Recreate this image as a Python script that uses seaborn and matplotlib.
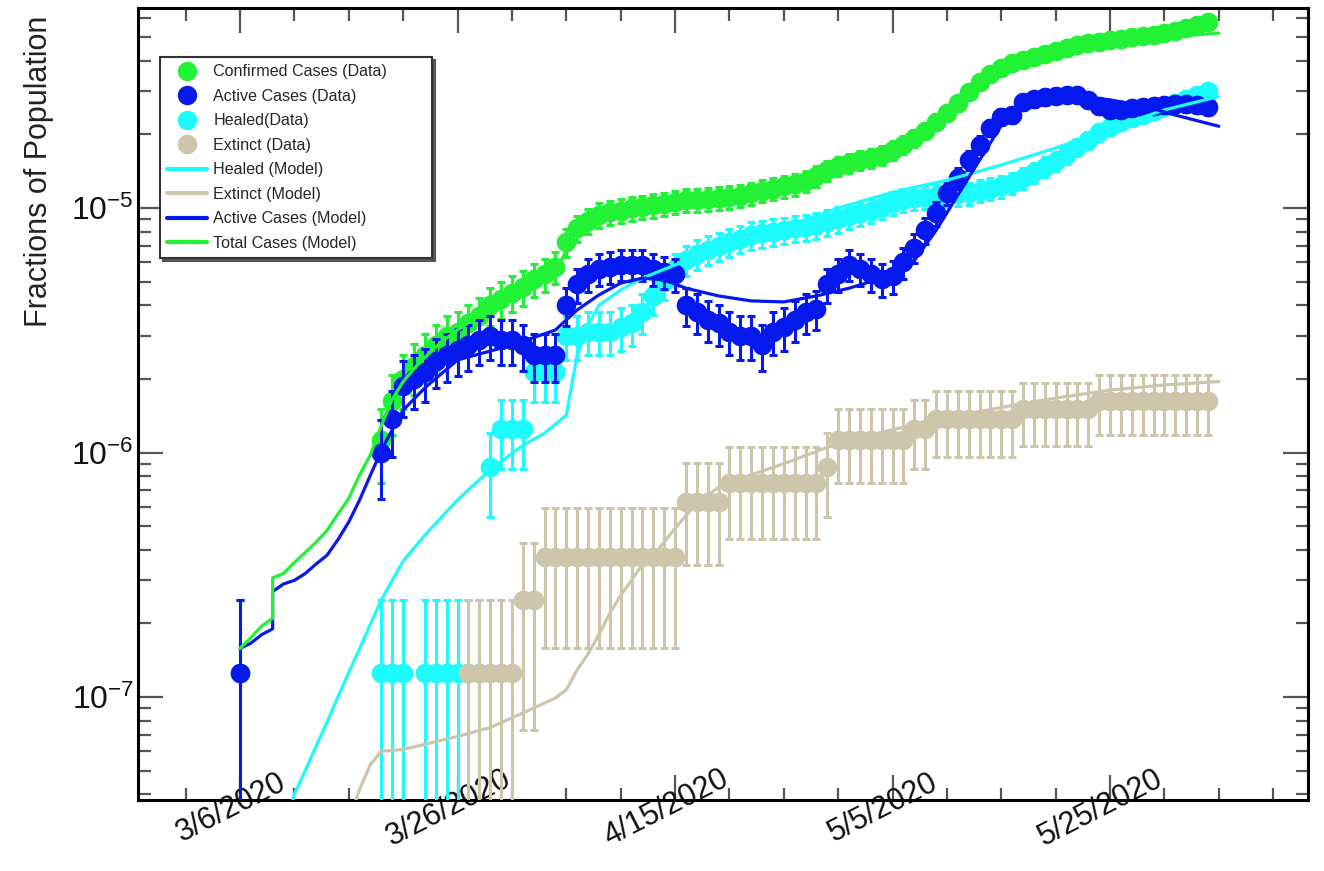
import numpy as np
import pandas as pd
import matplotlib
matplotlib.use("Agg")
import matplotlib.pyplot as plt
import seaborn as sns
from matplotlib.lines import Line2D
from matplotlib.ticker import FixedLocator, LogLocator, MultipleLocator, NullFormatter
from matplotlib.transforms import ScaledTranslation

# ---------------- data ----------------
POPULATION = 8.0e6  # fractions = counts / population

data_days = [0] + list(range(13, 90))  # days since 3/6/2020

confirmed = [1,
             9, 13, 16, 18, 20, 22, 24, 25, 27, 29, 32, 34, 36, 38, 41, 43, 46, 58, 66, 71,
             75, 77, 78, 80, 81, 82, 83, 85, 86, 86, 87, 88, 89, 90, 92, 94, 96, 98, 100, 103,
             108, 114, 119, 122, 126, 128, 132, 138, 145, 154, 166, 180, 196, 215, 238, 262, 282, 299,
             313, 322, 332, 342, 351, 362, 371, 378, 382, 390, 393, 401, 404, 408, 416, 423, 435, 448, 461]

active = [1,
          8, 11, 15, 16, 17, 19, 20, 21, 22, 23, 24, 23, 23, 22, 20, 20, 20, 32, 39, 43,
          45, 46, 47, 47, 47, 45, 44, 43, 32, 30, 28, 27, 25, 24, 24, 22, 25, 26, 28, 30,
          31, 39, 43, 47, 45, 43, 41, 42, 48, 55, 65, 76, 92, 106, 126, 145, 170, 189,
          192, 217, 223, 227, 230, 232, 232, 222, 209, 202, 202, 205, 207, 209, 211, 213, 213, 211, 207]

healed = [0,
          1, 1, 1, 0, 1, 1, 1, 1, 1, 1, 7, 10, 10, 10, 17, 17, 17, 24, 24, 25,
          25, 25, 26, 27, 30, 35, 40, 45, 49, 52, 54, 56, 58, 60, 62, 63, 64, 65, 66, 67,
          68, 70, 72, 74, 76, 78, 81, 84, 86, 88, 89, 90, 90, 91, 92, 94, 96, 98,
          101, 106, 112, 118, 125, 133, 142, 152, 163, 172, 180, 187, 193, 200, 207, 215, 224, 232, 240]

extinct = [0,
           0, 0, 0, 0, 0, 0, 0, 0, 1, 1, 1, 1, 1, 2, 2, 3, 3, 3, 3, 3,
           3, 3, 3, 3, 3, 3, 3, 3, 5, 5, 5, 5, 6, 6, 6, 6, 6, 6, 6, 6,
           6, 7, 9, 9, 9, 9, 9, 9, 9, 10, 10, 11, 11, 11, 11, 11, 11, 11,
           11, 12, 12, 12, 12, 12, 12, 12, 13, 13, 13, 13, 13, 13, 13, 13, 13, 13, 13]

# model curves (fraction of population, in units of 1e-6)
heal_model_days = [4, 5, 6, 7, 8, 9, 10, 11, 12, 13, 14, 15, 17, 20, 23, 26, 28, 30, 31, 32,
                   33, 35, 37, 40, 45, 50, 55, 60, 65, 70, 75, 80, 85, 90]
heal_model = [0.026, 0.040, 0.050, 0.063, 0.079, 0.10, 0.126, 0.158, 0.199, 0.25, 0.30, 0.36,
              0.46, 0.64, 0.85, 1.07, 1.2, 1.42, 2.5, 3.32, 4.0, 4.62, 5.17, 5.85, 7.1, 8.3,
              10.0, 11.6, 13.0, 15.0, 17.6, 21.2, 25.2, 28.6]

ext_model_days = [10, 11, 12, 13, 15, 17, 20, 23, 26, 29, 30, 31, 32, 33, 34, 35, 36, 37, 38,
                  39, 40, 42, 44, 47, 50, 55, 60, 65, 70, 75, 80, 85, 90]
ext_model = [0.031, 0.042, 0.053, 0.060, 0.061, 0.064, 0.069, 0.075, 0.086, 0.099, 0.107,
             0.129, 0.15, 0.18, 0.22, 0.26, 0.30, 0.35, 0.38, 0.43, 0.49, 0.62, 0.72, 0.81,
             0.90, 1.09, 1.24, 1.38, 1.53, 1.67, 1.80, 1.89, 1.95]

act_model_days = [0, 1, 2, 3, 3, 4, 5, 6, 7, 8, 9, 10, 11, 12, 13, 14, 15, 17, 20, 25, 29, 31,
                  33, 35, 37, 39, 41, 44, 47, 50, 53, 56, 58, 60, 62, 64, 66, 68, 70, 72, 74,
                  76, 78, 80, 83, 86, 90]
act_model = [0.158, 0.166, 0.18, 0.19, 0.27, 0.29, 0.30, 0.32, 0.35, 0.38, 0.44, 0.52, 0.64,
             0.81, 1.02, 1.24, 1.49, 1.84, 2.39, 2.75, 3.17, 3.83, 4.41, 4.93, 5.17, 5.08,
             4.7, 4.37, 4.17, 4.13, 4.37, 4.7, 5.0, 5.27, 6.1, 8.1, 11.3, 15.7, 21.8, 26.4,
             28.4, 29.0, 28.4, 27.7, 26.2, 24.0, 21.6]

tot_model_days = [0, 1, 2, 3, 3, 4, 5, 6, 7, 8, 9, 10, 11, 12, 13, 14, 15, 16, 17, 18, 19, 20,
                  24, 29, 30, 31, 35, 40, 50, 55, 60, 62, 66, 69, 72, 76, 80, 85, 90]
tot_model = [0.158, 0.175, 0.195, 0.21, 0.307, 0.32, 0.355, 0.39, 0.43, 0.48, 0.56, 0.65,
             0.81, 0.98, 1.29, 1.65, 1.95, 2.2, 2.45, 2.7, 2.94, 3.17, 4.21, 5.5, 6.7, 8.3,
             9.6, 10.5, 12.1, 14.6, 16.9, 19.0, 26.4, 34.0, 39.5, 43.5, 47.0, 49.8, 52.0]

xtick_days = [0, 20, 40, 60, 80]
xtick_labels = ["3/6/2020", "3/26/2020", "4/15/2020", "5/5/2020", "5/25/2020"]
ytick_values = [1e-7, 1e-6, 1e-5]
ytick_labels = ["$10^{-7}$", "$10^{-6}$", "$10^{-5}$"]

data_labels = ["Confirmed Cases (Data)", "Active Cases (Data)", "Healed(Data)", "Extinct (Data)"]
model_labels = ["Healed (Model)", "Extinct (Model)", "Active Cases (Model)", "Total Cases (Model)"]

# ---------------- style ----------------
GREEN = "#22f236"
BLUE = "#0519ee"
CYAN = "#1cfcfc"
TAN = "#cdc6ab"

sns.set_style("white")
plt.rcParams["font.family"] = ["Liberation Sans", "DejaVu Sans"]
plt.rcParams["mathtext.fontset"] = "custom"
plt.rcParams["mathtext.rm"] = "Liberation Sans"
plt.rcParams["mathtext.it"] = "Liberation Sans:italic"
plt.rcParams["mathtext.bf"] = "Liberation Sans:bold"
plt.rcParams["mathtext.default"] = "regular"

fig = plt.figure(figsize=(13.24, 8.71), dpi=100)
ax = fig.add_axes([138 / 1324, 1 - 800 / 871, 1170 / 1324, 792 / 871])
ax.set_yscale("log")


def series_frame(counts):
    n = np.array(counts, dtype=float)
    frac = n / POPULATION
    err = np.sqrt(n) / POPULATION
    lo = np.clip(frac - err, 1e-12, None)
    df = pd.DataFrame({"day": data_days, "frac": frac, "lo": lo, "hi": frac + err})
    return df[n > 0].reset_index(drop=True)


# data series: drawn confirmed, healed, extinct, active (ROOT draw order)
for counts, color, z in [(confirmed, GREEN, 2), (healed, CYAN, 4), (extinct, TAN, 6), (active, BLUE, 8)]:
    df = series_frame(counts)
    ax.errorbar(df["day"], df["frac"], yerr=[df["frac"] - df["lo"], df["hi"] - df["frac"]],
                fmt="none", ecolor=color, elinewidth=2.2, capsize=3, capthick=2.2, zorder=z)
    sns.scatterplot(data=df, x="day", y="frac", color=color, s=200, linewidth=0,
                    ax=ax, zorder=z + 0.5, legend=False)

# model curves
for d, v, color, z in [(heal_model_days, heal_model, CYAN, 10),
                       (ext_model_days, ext_model, TAN, 11),
                       (act_model_days, act_model, BLUE, 12),
                       (tot_model_days, tot_model, GREEN, 13)]:
    mdf = pd.DataFrame({"day": d, "frac": np.array(v) * 1e-6})
    sns.lineplot(data=mdf, x="day", y="frac", color=color, lw=2.3, estimator=None,
                 sort=False, ax=ax, zorder=z, legend=False)

# ---------------- axes ----------------
ax.set_xlim(-9.38, 98.2)
ax.set_ylim(3.79e-8, 6.58e-5)

ax.xaxis.set_major_locator(FixedLocator(xtick_days))
ax.xaxis.set_minor_locator(MultipleLocator(5))
ax.set_xticklabels(xtick_labels)
ax.set_yticks(ytick_values)
ax.set_yticklabels(ytick_labels)
ax.yaxis.set_minor_locator(LogLocator(base=10, subs=np.arange(2, 10)))
ax.yaxis.set_minor_formatter(NullFormatter())

ax.tick_params(axis="both", which="major", direction="in", length=18, width=1.6,
               color="#555555", left=True, bottom=True, top=True, right=True,
               labelcolor="#111111")
ax.tick_params(axis="both", which="minor", direction="in", length=9, width=1.6,
               color="#555555", left=True, bottom=True, top=True, right=True)
ax.tick_params(axis="x", which="major", pad=6, labelsize=22)
ax.tick_params(axis="y", which="major", pad=3, labelsize=23)

for lbl in ax.get_xticklabels():
    lbl.set_rotation(27)
    lbl.set_ha("center")
    lbl.set_va("center")
    lbl.set_rotation_mode("anchor")
    lbl.set_transform(lbl.get_transform() + ScaledTranslation(-9 / 100, 0, fig.dpi_scale_trans))

for s in ax.spines.values():
    s.set_linewidth(2.2)
    s.set_color("black")

ax.set_xlabel("")
ax.set_ylabel("Fractions of Population", fontsize=22, color="#222222", loc="top")
ax.yaxis.set_label_coords(-0.072, 0.99)

# ---------------- legend ----------------
handles = [Line2D([], [], ls="none", marker="o", ms=13, color=c, mec=c) for c in (GREEN, BLUE, CYAN, TAN)]
handles += [Line2D([], [], lw=3, color=c) for c in (CYAN, TAN, BLUE, GREEN)]
leg = ax.legend(handles, data_labels + model_labels, loc="upper left",
                bbox_to_anchor=(0.0188, 0.682, 0.2325, 0.256), mode="expand",
                fontsize=11.6, frameon=True, fancybox=False, edgecolor="#333333", framealpha=1,
                borderpad=0.45, labelspacing=0.59, handlelength=2.45, handletextpad=0.42,
                borderaxespad=0, shadow={"color": "#555555", "alpha": 1})
leg.get_frame().set_linewidth(1.5)
leg.set_zorder(20)

fig.savefig("out.png", dpi=100)
